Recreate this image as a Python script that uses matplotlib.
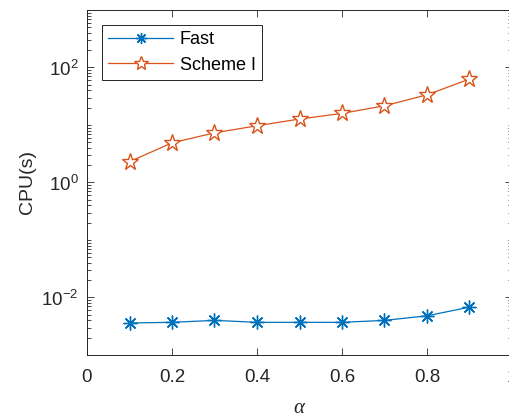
import numpy as np
import matplotlib
matplotlib.use('Agg')
import matplotlib.pyplot as plt
from matplotlib.ticker import LogLocator, NullFormatter, FixedLocator

plt.rcParams['font.family'] = ['Liberation Sans', 'DejaVu Sans']
plt.rcParams['mathtext.fontset'] = 'custom'
plt.rcParams['mathtext.rm'] = 'Liberation Sans'
plt.rcParams['mathtext.it'] = 'Liberation Serif:italic'

# data
alpha = [0.1, 0.2, 0.3, 0.4, 0.5, 0.6, 0.7, 0.8, 0.9]
cpu_fast = [0.0036, 0.0037, 0.0040, 0.0037, 0.0037, 0.0037, 0.0040, 0.0048, 0.0068]
cpu_scheme1 = [2.3, 4.9, 7.3, 9.7, 12.7, 15.9, 21.6, 33.5, 63.0]

blue = '#0072BD'
orange = '#D95319'
axcol = '#262626'

fig = plt.figure(figsize=(5.09, 4.16), dpi=100)
ax = fig.add_axes([87 / 509, 1 - 355 / 416, (512 - 87) / 509, (355 - 10) / 416])

ax.plot(alpha, cpu_fast, color=blue, lw=0.9, marker=(8, 2, 0), ms=10,
        mew=1.0, label='Fast')
ax.plot(alpha, cpu_scheme1, color=orange, lw=0.9, marker='*', ms=12.5,
        mfc='white', mec=orange, mew=1.0, label='Scheme I')

ax.set_yscale('log')
ax.set_xlim(0, 1)
ax.set_ylim(1e-3, 1e3)
ax.set_xticks([0, 0.2, 0.4, 0.6, 0.8, 1.0])
ax.set_xticklabels(['0', '0.2', '0.4', '0.6', '0.8', '1'])
ax.yaxis.set_major_locator(FixedLocator([1e-2, 1e0, 1e2]))
ax.yaxis.set_minor_locator(LogLocator(base=10, subs=np.arange(1, 10), numticks=20))
ax.yaxis.set_minor_formatter(NullFormatter())

ax.tick_params(which='both', direction='in', top=True, right=True,
               color=axcol, labelcolor=axcol, labelsize=13.5, width=0.6)
ax.tick_params(which='major', length=5)
ax.tick_params(which='minor', length=3)
ax.tick_params(axis='x', pad=10)
ax.tick_params(axis='y', pad=6)
for s in ax.spines.values():
    s.set_color(axcol)
    s.set_linewidth(0.7)

ax.set_ylabel('CPU(s)', fontsize=14, color=axcol, labelpad=4)
ax.set_xlabel(r'$\alpha$', fontsize=15, color=axcol, labelpad=9)

leg = ax.legend(loc='upper left', bbox_to_anchor=(0.035, 0.956), fontsize=13,
                fancybox=False, edgecolor=axcol, framealpha=1, markerscale=0.8,
                handlelength=3.6, borderpad=0.35, labelspacing=0.45,
                handletextpad=0.35, borderaxespad=0)
leg.get_frame().set_linewidth(0.7)

fig.savefig('out.png', dpi=100)
